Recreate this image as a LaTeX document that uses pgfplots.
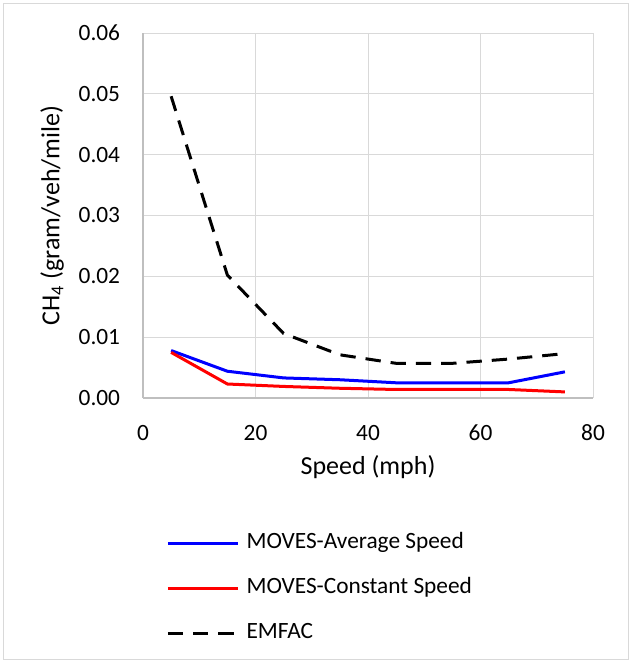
\documentclass[border=0pt]{standalone}
\usepackage{pgfplots}
\pgfplotsset{compat=1.18}
\usepackage{fontspec}
\setmainfont{Carlito}
\definecolor{gridgray}{RGB}{217,217,217}
\definecolor{axgray}{RGB}{191,191,191}
\definecolor{mblue}{RGB}{0,0,255}
\definecolor{mred}{RGB}{255,0,0}

\begin{document}
\fontsize{17.5}{21}\selectfont
\begin{tikzpicture}[x=0.75pt,y=0.75pt]
\useasboundingbox (0,0) rectangle (632,663);
\draw[gridgray, line width=0.75pt] (3.5,3.5) rectangle (628.5,659.5);
\begin{axis}[
  at={(107.25pt,198.75pt)}, anchor=south west,
  scale only axis,
  width=337.5pt, height=273.75pt,
  xmin=0, xmax=80, ymin=0, ymax=0.06,
  xtick={0,20,40,60,80},
  ytick={0,0.01,0.02,0.03,0.04,0.05,0.06},
  scaled y ticks=false,
  /pgf/number format/assume math mode=true,
  yticklabel style={/pgf/number format/fixed, /pgf/number format/fixed zerofill, /pgf/number format/precision=2},
  tick label style={font=\fontsize{17.5}{21}\selectfont},
  label style={font=\fontsize{19.5}{23}\selectfont},
  major tick length=0pt,
  tick style={draw=none},
  yticklabel style={inner sep=0pt, xshift=-17pt},
  xticklabel style={inner sep=0pt, yshift=-20pt},
  grid=major,
  grid style={gridgray, line width=0.75pt},
  axis x line*=bottom, axis y line*=left,
  axis line style={axgray, line width=1pt, -},
  xlabel={Speed (mph)},
  ylabel={CH\textsubscript{4} (gram/veh/mile)},
  xlabel style={at={(axis description cs:0.5,-0.189)}, anchor=center},
  ylabel style={at={(axis description cs:-0.2022,0.5)}, anchor=center},
  legend style={at={(axis description cs:0.0511,-0.367)}, anchor=north west,
    font=\fontsize{17.5}{21}\selectfont,
    draw=none, fill=none, inner sep=0pt, row sep=17.5pt, column sep=5pt,
    nodes={inner sep=0pt, text height=12pt, text depth=4.5pt}},
  legend cell align=left,
  legend image code/.code={\draw[#1] (0pt,0pt) -- (53pt,0pt);},
]
\addplot[mblue, line width=2.25pt] coordinates {
  (5,0.0078) (15,0.0044) (25,0.0033) (35,0.0030) (45,0.0025) (55,0.0025) (65,0.0025) (75,0.0043)
};
\addlegendentry{MOVES-Average Speed}
\addplot[mred, line width=2.25pt] coordinates {
  (5,0.0075) (15,0.0023) (25,0.0019) (35,0.0016) (45,0.0014) (55,0.0014) (65,0.0014) (75,0.0010)
};
\addlegendentry{MOVES-Constant Speed}
\addplot[black, line width=2.25pt, dash pattern=on 11.5pt off 7.5pt] coordinates {
  (5,0.0496) (15,0.0202) (25,0.0106) (35,0.0071) (45,0.0057) (55,0.0057) (65,0.0064) (75,0.0073)
};
\addlegendentry{EMFAC}
\end{axis}
\end{tikzpicture}
\end{document}
